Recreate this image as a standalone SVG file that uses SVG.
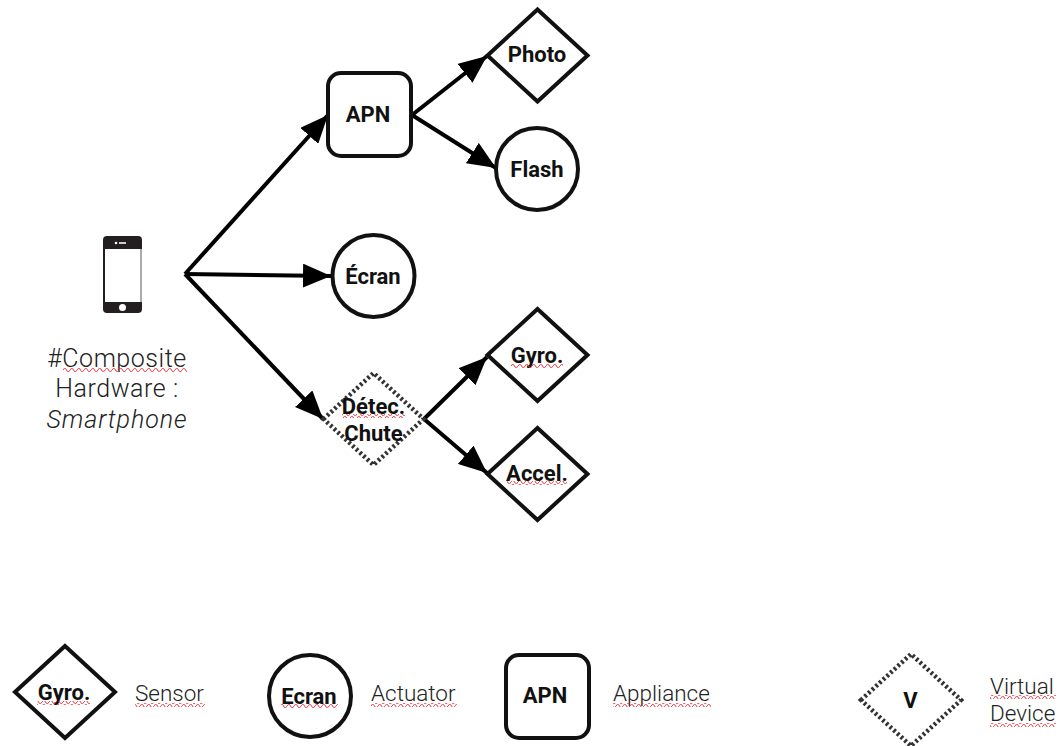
<svg xmlns="http://www.w3.org/2000/svg" width="1061" height="746" viewBox="0 0 1061 746">
<style>
text{font-family:Roboto,"Liberation Sans",sans-serif;fill:#111;text-anchor:middle}
.b{font-weight:700;font-size:22px}
.l{font-weight:300;font-size:25px;letter-spacing:.55px;fill:#222}
.i{font-style:italic;letter-spacing:.95px}
.s{font-weight:300;font-size:22.500px;text-anchor:start;fill:#222}
.n{fill:#fff;stroke:#111;stroke-width:4;stroke-linejoin:miter}
.v{fill:#fff;stroke:#333;stroke-width:4.5;stroke-dasharray:2.500 2.500}
.c{fill:none;stroke:#000;stroke-width:4;marker-end:url(#a)}
.w{fill:url(#wave)}
</style>
<defs>
<marker id="a" markerUnits="userSpaceOnUse" markerWidth="30" markerHeight="24" refX="28" refY="12" orient="auto"><path d="M0 0L28 12L0 24z" fill="#000"/></marker>
<pattern id="wave" patternUnits="userSpaceOnUse" width="7" height="4"><path d="M0 2Q1.750-1.500 3.500 2T7 2" fill="none" stroke="#f0303a" stroke-width="1"/></pattern>
<path id="d" d="M-50 0L0-46L50 0L0 46z"/>
</defs>
<g id="connectors">
<path class="c" d="M185 274L328 115"/>
<path class="c" d="M185 274L331 276"/>
<path class="c" d="M185 274L323 419"/>
<path class="c" d="M412 115L487 56"/>
<path class="c" d="M412 115L496 168"/>
<path class="c" d="M424 419L487 357"/>
<path class="c" d="M424 419L487 473"/>
</g>
<g id="phone">
<rect x="103" y="236" width="39" height="77" rx="4" fill="#231f20"/>
<rect x="105" y="249" width="35" height="53" fill="#fff"/>
<rect x="140" y="249" width="2" height="53" fill="#aaa"/>
<circle cx="122.500" cy="307.500" r="3.500" fill="#fff"/>
<circle cx="116" cy="243" r="1.300" fill="#fff"/>
<rect x="119" y="242" width="7" height="2" fill="#ccc"/>
<text class="l" x="117" y="367">#Composite</text>
<rect class="w" x="63" y="368" width="124" height="4"/>
<text class="l" x="117" y="397">Hardware :</text>
<text class="l i" x="117" y="428">Smartphone</text>
</g>
<g id="apn">
<rect class="n" x="328" y="73" width="83" height="83" rx="13"/>
<text class="b" x="368" y="122">APN</text>
</g>
<g id="photo">
<use href="#d" class="n" x="537.500" y="55.500"/>
<text class="b" x="537" y="62">Photo</text>
</g>
<g id="flash">
<circle class="n" cx="537" cy="169" r="41"/>
<text class="b" x="537" y="177">Flash</text>
</g>
<g id="ecran">
<circle class="n" cx="373.500" cy="276" r="41"/>
<text class="b" x="373" y="284">Écran</text>
</g>
<g id="detec">
<use href="#d" class="v" x="373.500" y="419"/>
<text class="b" x="373.500" y="414">Détec.</text>
<text class="b" x="373.500" y="441">Chute</text>
<rect class="w" x="342" y="414" width="63" height="4"/>
</g>
<g id="gyro">
<use href="#d" class="n" x="537.500" y="355"/>
<text class="b" x="537" y="363">Gyro.</text>
<rect class="w" x="511" y="364" width="52" height="4"/>
</g>
<g id="accel">
<use href="#d" class="n" x="537.500" y="474"/>
<text class="b" x="537" y="481">Accel.</text>
<rect class="w" x="507" y="481" width="60" height="4"/>
</g>
<g id="legend-sensor">
<use href="#d" class="n" x="65" y="692"/>
<text class="b" x="64" y="700">Gyro.</text>
<rect class="w" x="37" y="701" width="53" height="4"/>
<text class="s" x="135" y="701">Sensor</text>
<rect class="w" x="135" y="703" width="70" height="4"/>
</g>
<g id="legend-actuator">
<circle class="n" cx="310" cy="696" r="41"/>
<text class="b" x="309" y="704">Ecran</text>
<rect class="w" x="281" y="704" width="57" height="4"/>
<text class="s" x="371" y="701">Actuator</text>
<rect class="w" x="371" y="703" width="86" height="4"/>
</g>
<g id="legend-appliance">
<rect class="n" x="506" y="655" width="83" height="83" rx="13"/>
<text class="b" x="545" y="703">APN</text>
<text class="s" x="613" y="701">Appliance</text>
<rect class="w" x="613" y="703" width="98" height="4"/>
</g>
<g id="legend-virtual">
<use href="#d" class="v" x="911" y="700"/>
<text class="b" x="910.500" y="708">V</text>
<text class="s" x="990" y="694">Virtual</text>
<rect class="w" x="990" y="695" width="66" height="4"/>
<text class="s" x="990" y="721">Device</text>
<rect class="w" x="990" y="723" width="66" height="4"/>
</g>
</svg>
